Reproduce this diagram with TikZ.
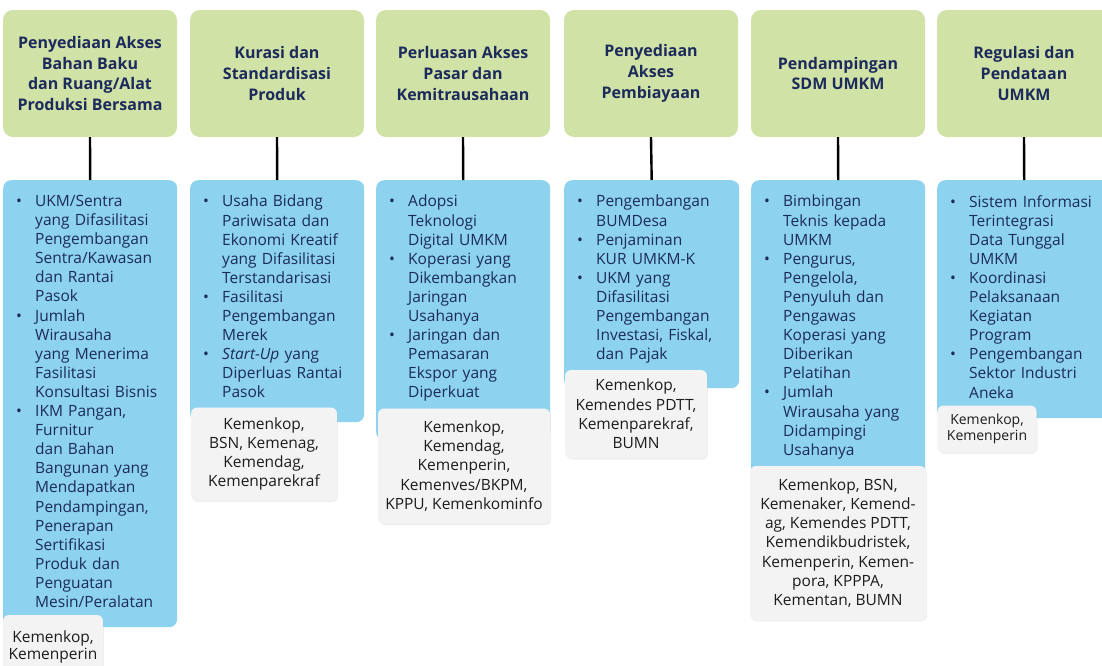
\documentclass[tikz,border=0pt]{standalone}
\usepackage{fontspec}
\setmainfont{Open Sans}
\usetikzlibrary{shadows}
\definecolor{hdrgreen}{RGB}{208,226,166}
\definecolor{bodyblue}{RGB}{141,211,239}
\definecolor{footgray}{RGB}{243,243,243}
\definecolor{navy}{RGB}{28,42,92}
\definecolor{foottxt}{RGB}{28,28,28}
\newcommand{\bul}[1]{\noindent\hangindent=19pt\hangafter=1\makebox[19pt][l]{•}#1\par}
\tikzset{
  hdr/.style={fill=hdrgreen, rounded corners=10pt, minimum width=174pt, minimum height=127pt,
    inner sep=0pt, font=\fontsize{16}{20.8}\selectfont\bfseries, text=navy, align=center},
  bodybox/.style={fill=bodyblue, rounded corners=8pt, inner sep=0pt, anchor=north west},
  bodytext/.style={anchor=north west, inner sep=0pt, text width=168pt,
    font=\fontsize{15.5}{19.1}\selectfont, text=navy},
  footbox/.style={fill=footgray, rounded corners=6pt, inner sep=0pt, align=center,
    font=\fontsize{15.5}{19.3}\selectfont, text=foottxt,
    drop shadow={opacity=0.12, shadow xshift=1pt, shadow yshift=-1.5pt}},
  link/.style={line width=2.4pt, black}
}
\begin{document}
\begin{tikzpicture}[x=1pt,y=-1pt]
\useasboundingbox (0,0) rectangle (1102,665);
\clip (0,0) rectangle (1102,665);
\fill[white] (0,0) rectangle (1102,665);

% headers
\node[hdr] (h1) at (90,73.5) {Penyediaan Akses\\Bahan Baku\\dan Ruang/Alat\\Produksi Bersama};
\node[hdr] (h2) at (277,73.5) {Kurasi dan\\Standardisasi\\Produk};
\node[hdr] (h3) at (463,73.5) {Perluasan Akses\\Pasar dan\\Kemitrausahaan};
\node[hdr] (h4) at (651,73.5) {Penyediaan\\Akses\\Pembiayaan};
\node[hdr] (h5) at (838,73.5) {Pendampingan\\SDM UMKM};
\node[hdr] (h6) at (1024,73.5) {Regulasi dan\\Pendataan\\UMKM};

% body boxes
\node[bodybox, minimum width=174pt, minimum height=447pt] (b1) at (3,180) {};
\node[bodybox, minimum width=174pt, minimum height=242pt] (b2) at (190,180) {};
\node[bodybox, minimum width=174pt, minimum height=260pt] (b3) at (376,180) {};
\node[bodybox, minimum width=175pt, minimum height=208pt] (b4) at (564,180) {};
\node[bodybox, minimum width=174pt, minimum height=300pt] (b5) at (751,180) {};
\node[bodybox, minimum width=174pt, minimum height=238pt] (b6) at (937,180) {};

% connectors
\foreach \i in {1,...,6} {\draw[link] (h\i.south) -- (b\i.north);}

% body texts
\node[bodytext] (t1) at (16,195) {%
\bul{UKM/Sentra\newline yang Difasilitasi\newline Pengembangan\newline Sentra/Kawasan\newline dan Rantai\newline Pasok}%
\bul{Jumlah\newline Wirausaha\newline yang Menerima\newline Fasilitasi\newline Konsultasi Bisnis}%
\bul{IKM Pangan,\newline Furnitur\newline dan Bahan\newline Bangunan yang\newline Mendapatkan\newline Pendampingan,\newline Penerapan\newline Sertifikasi\newline Produk dan\newline Penguatan\newline Mesin/Peralatan}};
\node[bodytext] (t2) at (203,195) {%
\bul{Usaha Bidang\newline Pariwisata dan\newline Ekonomi Kreatif\newline yang Difasilitasi\newline Terstandarisasi}%
\bul{Fasilitasi\newline Pengembangan\newline Merek}%
\bul{\textit{Start-Up} yang\newline Diperluas Rantai\newline Pasok}};
\node[bodytext] (t3) at (389,195) {%
\bul{Adopsi\newline Teknologi\newline Digital UMKM}%
\bul{Koperasi yang\newline Dikembangkan\newline Jaringan\newline Usahanya}%
\bul{Jaringan dan\newline Pemasaran\newline Ekspor yang\newline Diperkuat}};
\node[bodytext] (t4) at (577,195) {%
\bul{Pengembangan\newline BUMDesa}%
\bul{Penjaminan\newline KUR UMKM-K}%
\bul{UKM yang\newline Difasilitasi\newline Pengembangan\newline Investasi, Fiskal,\newline dan Pajak}};
\node[bodytext] (t5) at (764,195) {%
\bul{Bimbingan\newline Teknis kepada\newline UMKM}%
\bul{Pengurus,\newline Pengelola,\newline Penyuluh dan\newline Pengawas\newline Koperasi yang\newline Diberikan\newline Pelatihan}%
\bul{Jumlah\newline Wirausaha yang\newline Didampingi\newline Usahanya}};
\node[bodytext] (t6) at (950,195) {%
\bul{Sistem Informasi\newline Terintegrasi\newline Data Tunggal\newline UMKM}%
\bul{Koordinasi\newline Pelaksanaan\newline Kegiatan\newline Program}%
\bul{Pengembangan\newline Sektor Industri\newline Aneka}};

% footers
\node[footbox, minimum width=100pt, minimum height=64pt, font=\fontsize{15.5}{17.5}\selectfont] (f1) at (53,647) {Kemenkop,\\Kemenperin};
\node[footbox, minimum width=146pt, minimum height=93pt] (f2) at (264,454) {Kemenkop,\\BSN, Kemenag,\\Kemendag,\\Kemenparekraf};
\node[footbox, minimum width=172pt, minimum height=115pt] (f3) at (464,466) {Kemenkop,\\Kemendag,\\Kemenperin,\\Kemenves/BKPM,\\KPPU, Kemenkominfo};
\node[footbox, minimum width=142pt, minimum height=88pt] (f4) at (636,414) {Kemenkop,\\Kemendes PDTT,\\Kemenparekraf,\\BUMN};
\node[footbox, minimum width=176pt, minimum height=154pt] (f5) at (838,543) {Kemenkop, BSN,\\Kemenaker, Kemend-\\ag, Kemendes PDTT,\\Kemendikbudristek,\\Kemenperin, Kemen-\\pora, KPPPA,\\Kementan, BUMN};
\node[footbox, minimum width=99pt, minimum height=47pt, font=\fontsize{14}{16.5}\selectfont] (f6) at (987,429) {Kemenkop,\\Kemenperin};
\end{tikzpicture}
\end{document}
